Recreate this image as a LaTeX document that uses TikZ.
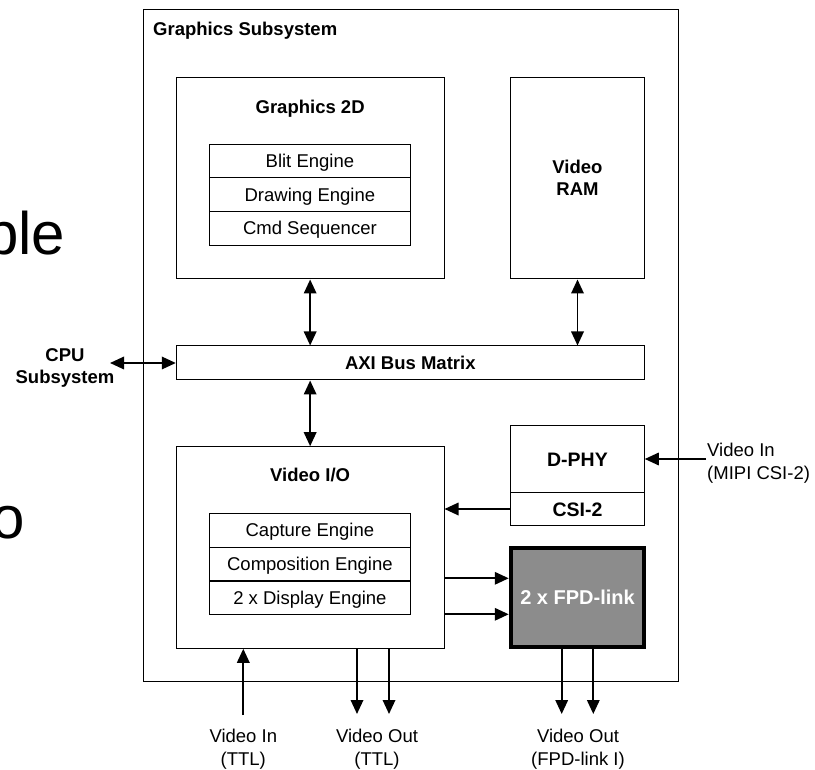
\documentclass[tikz,border=0pt]{standalone}
\usepackage{fontspec}
\setmainfont{Liberation Sans}
\usetikzlibrary{arrows.meta,calc}
\definecolor{fpdgray}{RGB}{140,140,140}

\begin{document}
\begin{tikzpicture}[x=1pt,y=-1pt,
  box/.style={draw=black,line width=1pt,inner sep=0pt},
  txt/.style={inner sep=0pt,font=\fontsize{18.5}{22.4}\selectfont},
  btxt/.style={inner sep=0pt,font=\fontsize{18.5}{22}\selectfont\bfseries},
  row/.style={box,font=\fontsize{18.5}{22}\selectfont,minimum width=201.2pt,
    minimum height=33.6pt,text height=13.3pt,text depth=0pt},
  bigtxt/.style={inner sep=0pt,font=\fontsize{60}{60}\selectfont},
  tip/.tip={Triangle[length=14pt,width=12.5pt]},
  link/.style={line width=1.8pt,-tip},
  dlink/.style={line width=1.8pt,tip-tip},
]
\useasboundingbox (0,0) rectangle (815,770);

% large slide text running behind the figure
\node[bigtxt,anchor=base east] (bigA) at (65.4,255) {ble};
\node[bigtxt,anchor=base east] (bigB) at (25.2,538.3) {o};

% subsystem frame
\node[box,minimum width=535pt,minimum height=671.7pt] (gs) at (410.5,345.85) {};
\node[btxt,anchor=base west] (gstitle) at (153,36) {Graphics Subsystem};

% Graphics 2D block
\node[box,minimum width=267.7pt,minimum height=201.7pt] (g2d) at (310.15,178.15) {};
\node[btxt,anchor=base] (g2dtitle) at (310.15,114) {Graphics 2D};
\node[row] (blit) at (309.9,161.1) {Blit Engine};
\node[row] (draweng) at (309.9,194.7) {Drawing Engine};
\node[row] (cmdseq) at (309.9,228.3) {Cmd Sequencer};

% Video RAM
\node[box,minimum width=133.6pt,minimum height=201.7pt] (ram) at (577.5,178.15) {};
\node[btxt,align=center,anchor=north] (ramtitle) at (577.5,160) {Video\\RAM};

% AXI bus
\node[box,font=\fontsize{18.5}{22}\selectfont\bfseries,minimum width=468pt,
  minimum height=34pt,text height=13.3pt,text depth=0pt] (axi) at (410.3,363) {AXI Bus Matrix};
\node[btxt,align=center,anchor=north] (cpu) at (65,348) {CPU\\Subsystem};
\coordinate (cpuend) at (110,363);

% Video I/O block
\node[box,minimum width=267.7pt,minimum height=201.6pt] (vio) at (310.15,547.5) {};
\node[btxt,anchor=base] (viotitle) at (310.15,482) {Video I/O};
\node[row] (capture) at (309.9,530.3) {Capture Engine};
\node[row] (compose) at (309.9,564.2) {Composition Engine};
\node[row] (display) at (309.9,597.7) {2 x Display Engine};

% D-PHY / CSI-2 receiver
\node[box,font=\fontsize{19.5}{22}\selectfont\bfseries,minimum width=133.6pt,
  minimum height=66.6pt,text height=14pt,text depth=0pt] (dphy) at (577.5,459) {D-PHY};
\node[box,font=\fontsize{19.5}{22}\selectfont\bfseries,minimum width=133.6pt,
  minimum height=33.4pt,text height=14pt,text depth=0pt] (csi) at (577.5,509) {CSI-2};

% FPD-link transmitter
\node[draw=black,line width=4.5pt,fill=fpdgray,text=white,inner sep=0pt,
  font=\fontsize{20}{22}\selectfont\bfseries,minimum width=133pt,minimum height=99pt,
  text height=14.3pt,text depth=0pt] (fpd) at (577.5,597.5) {2 x FPD-link};

% external signal labels
\node[txt,align=left,anchor=north west] (mipi) at (707,443.3) {Video In\\(MIPI CSI-2)};
\coordinate (mipiend) at (706,459);
\node[txt,align=center,anchor=north] (ttlin) at (243.3,729.3) {Video In\\(TTL)};
\node[txt,align=center,anchor=north] (ttlout) at (377,729.3) {Video Out\\(TTL)};
\node[txt,align=center,anchor=north] (fpdout) at (578,729.3) {Video Out\\(FPD-link I)};

% free ends of the external connections
\coordinate (vi) at (243.3,715);
\coordinate (vo1) at (357,714);
\coordinate (vo2) at (389,714);
\coordinate (fo1) at (561.7,714);
\coordinate (fo2) at (593.3,714);
\coordinate (fa) at (0,578.3);
\coordinate (fb) at (0,614.3);

% bus connections
\draw[dlink] (g2d.south) -- (g2d.south |- axi.north);
\draw[dlink] (ram.south) -- (ram.south |- axi.north);
\draw[dlink] (cpuend) -- (axi.west);
\draw[dlink] (vio.north |- axi.south) -- (vio.north);

% video paths
\draw[link] (mipiend) -- (dphy.east);
\draw[link] (csi.west) -- (csi.west -| vio.east);
\draw[link] (vio.east |- fa) -- (fpd.west |- fa);
\draw[link] (vio.east |- fb) -- (fpd.west |- fb);
\draw[link] (fpd.south -| fo1) -- (fo1);
\draw[link] (fpd.south -| fo2) -- (fo2);
\draw[link] (vio.south -| vo1) -- (vo1);
\draw[link] (vio.south -| vo2) -- (vo2);
\draw[link] (vi) -- (vio.south -| vi);
\end{tikzpicture}
\end{document}
